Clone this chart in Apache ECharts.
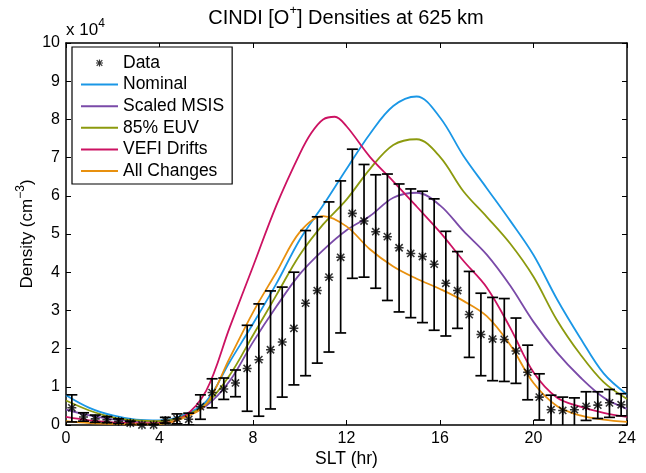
<!DOCTYPE html>
<html>
<head>
<meta charset="utf-8">
<script src="https://cdn.jsdelivr.net/npm/echarts@6/dist/echarts.min.js"></script>
<style>
html, body { margin: 0; padding: 0; background: #fff; }
#chart { width: 646px; height: 473px; }
</style>
</head>
<body>
<div id="chart"></div>
<script>
// model curves, x 10^4 cm^-3, hourly SLT
const hours = [0,1,2,3,4,5,6,7,8,9,10,11,12,13,14,15,16,17,18,19,20,21,22,23,24];
const nominal    = [0.78,0.45,0.25,0.14,0.12,0.25,0.62,1.65,2.65,3.70,4.85,5.75,6.70,7.62,8.35,8.60,8.05,7.05,6.20,5.35,4.45,3.30,2.28,1.35,0.80];
const scaledMsis = [0.40,0.25,0.15,0.10,0.10,0.22,0.50,1.15,2.17,3.10,3.95,4.58,5.10,5.47,5.95,6.08,5.75,5.08,4.46,3.65,2.70,1.90,1.25,0.72,0.42];
const euv85      = [0.64,0.38,0.20,0.12,0.10,0.22,0.55,1.30,2.35,3.40,4.45,5.25,5.90,6.70,7.33,7.48,7.02,6.12,5.45,4.75,3.88,2.75,1.85,1.12,0.68];
const allChanges = [0.10,0.05,0.03,0.02,0.03,0.18,0.55,1.75,2.95,4.00,5.05,5.47,5.20,4.60,4.15,3.83,3.56,3.25,2.85,2.10,1.10,0.50,0.25,0.14,0.08];
// VEFI curve has a sharper peak, so it gets two extra points near 11 h
const vefiHours  = [0,1,2,3,4,5,6,7,8,9,10,10.5,11,11.5,12,13,14,15,16,17,18,19,20,21,22,23,24];
const vefiDrifts = [0.21,0.12,0.07,0.05,0.05,0.20,0.90,2.55,4.15,5.75,7.10,7.65,8.00,8.07,7.82,7.02,6.38,5.72,5.05,4.30,3.60,2.55,1.38,0.72,0.48,0.32,0.21];

// CINDI data, half-hour bins
const dataHours = [0.25,0.75,1.25,1.75,2.25,2.75,3.25,3.75,4.25,4.75,5.25,5.75,6.25,6.75,7.25,7.75,8.25,8.75,9.25,9.75,10.25,10.75,11.25,11.75,
                   12.25,12.75,13.25,13.75,14.25,14.75,15.25,15.75,16.25,16.75,17.25,17.75,18.25,18.75,19.25,19.75,20.25,20.75,21.25,21.75,22.25,22.75,23.25,23.75];
const dataVals = [0.45,0.21,0.16,0.14,0.10,0.05,0.00,0.00,0.12,0.16,0.15,0.48,0.85,0.94,1.10,1.48,1.71,1.97,2.17,2.53,3.19,3.52,3.87,4.39,
                  5.54,5.34,5.06,4.93,4.64,4.49,4.41,4.21,3.71,3.52,2.89,2.37,2.25,2.24,1.94,1.38,0.73,0.40,0.38,0.40,0.49,0.52,0.58,0.53];
const errHigh = [0.79,0.32,0.26,0.22,0.16,0.10,0.02,0.02,0.20,0.29,0.31,0.79,1.21,1.23,1.44,2.61,3.17,3.51,3.61,4.00,5.09,5.45,5.84,6.39,
                 7.22,6.82,6.55,6.57,6.31,6.18,6.12,5.92,5.07,4.54,4.02,3.45,3.34,3.31,2.80,2.09,1.34,0.78,0.73,0.71,0.87,0.87,0.93,0.82];
const errLow  = [0.08,0.10,0.07,0.06,0.04,0.00,-0.02,-0.02,0.05,0.03,0.00,0.15,0.45,0.67,0.74,0.36,0.23,0.42,0.73,1.05,1.29,1.62,1.91,2.41,
                 3.84,3.87,3.58,3.26,2.96,2.81,2.68,2.48,2.33,2.53,1.77,1.29,1.16,1.14,1.09,0.66,0.13,-0.05,-0.05,-0.05,0.12,0.17,0.20,0.24];

const FONT = 'Liberation Sans, Arial, Helvetica, sans-serif';

// asterisk marker, padded so the visible star is half the symbol size
const starPath = 'path://M8.3 0L11.7 0L11.7 20L8.3 20Z M0 8.3L20 8.3L20 11.7L0 11.7Z M0.8 3.2L3.2 0.8L19.2 16.8L16.8 19.2Z M16.8 0.8L19.2 3.2L3.2 19.2L0.8 16.8Z M-10 -10L-9.99 -10Z M30 30L30.01 30Z';

const chartDom = document.getElementById('chart');
const myChart = echarts.init(chartDom, null, { renderer: 'canvas' });

function lineSeries(name, xs, values, color) {
    return {
        name: name,
        type: 'line',
        data: xs.map((h, i) => [h, values[i]]),
        symbol: 'none',
        smooth: 0.35,
        lineStyle: { color: color, width: 1.8 },
        itemStyle: { color: color },
        z: 3
    };
}

const axisLineStyle = { color: '#000', width: 1.5 };
const noMarker = { opacity: 0 };

const options = {
    animation: false,
    textStyle: { fontFamily: FONT },
    grid: { left: 66, right: 19, top: 43, bottom: 45 },
    graphic: [
        {
            type: 'text', x: 346, y: 18,
            style: {
                text: 'CINDI [O{sup|+}] Densities at 625 km',
                align: 'center', verticalAlign: 'middle',
                fontFamily: FONT, fontSize: 20, lineHeight: 28, fill: '#000',
                rich: { sup: { fontFamily: FONT, fontSize: 13, lineHeight: 13, verticalAlign: 'top' } }
            }
        },
        {
            type: 'text', x: 66, y: 30,
            style: {
                text: 'x 10{sup|4}',
                align: 'left', verticalAlign: 'middle',
                fontFamily: FONT, fontSize: 17, lineHeight: 25, fill: '#000',
                rich: { sup: { fontFamily: FONT, fontSize: 12, lineHeight: 12, verticalAlign: 'top' } }
            }
        }
    ],
    legend: {
        data: [
            { name: 'Data' },
            { name: 'Nominal', itemStyle: noMarker },
            { name: 'Scaled MSIS', itemStyle: noMarker },
            { name: '85% EUV', itemStyle: noMarker },
            { name: 'VEFI Drifts', itemStyle: noMarker },
            { name: 'All Changes', itemStyle: noMarker }
        ],
        orient: 'vertical',
        left: 72, top: 47,
        padding: [7, 8, 4, 8],
        itemWidth: 37, itemHeight: 14, itemGap: 3.6,
        borderColor: '#000', borderWidth: 1.2, borderRadius: 0,
        backgroundColor: '#fff',
        selectedMode: false,
        textStyle: { fontFamily: FONT, fontSize: 17.5, color: '#000' }
    },
    xAxis: [
        {
            type: 'value', min: 0, max: 24, interval: 4, position: 'bottom',
            name: 'SLT (hr)', nameLocation: 'middle', nameGap: 25, nameMoveOverlap: false,
            nameTextStyle: { fontFamily: FONT, fontSize: 17.5, color: '#000' },
            axisLine: { show: true, onZero: false, lineStyle: axisLineStyle },
            axisTick: { show: true, inside: true, length: 5, lineStyle: { color: '#000' } },
            axisLabel: { fontFamily: FONT, fontSize: 16, color: '#000', margin: 6 },
            splitLine: { show: false }
        },
        {
            type: 'value', min: 0, max: 24, interval: 4, position: 'top',
            axisLine: { show: true, onZero: false, lineStyle: axisLineStyle },
            axisTick: { show: true, inside: true, length: 5, lineStyle: { color: '#000' } },
            axisLabel: { show: false },
            splitLine: { show: false }
        }
    ],
    yAxis: [
        {
            type: 'value', min: 0, max: 10, interval: 1, position: 'left',
            name: 'Density (cm{sup|\u22123})', nameLocation: 'middle', nameGap: 26, nameMoveOverlap: false,
            nameTextStyle: {
                fontFamily: FONT, fontSize: 17, lineHeight: 25, color: '#000',
                rich: { sup: { fontFamily: FONT, fontSize: 12, lineHeight: 12, verticalAlign: 'top' } }
            },
            axisLine: { show: true, onZero: false, lineStyle: axisLineStyle },
            axisTick: { show: true, inside: true, length: 5, lineStyle: { color: '#000' } },
            axisLabel: { fontFamily: FONT, fontSize: 16, color: '#000', margin: 6 },
            splitLine: { show: false }
        },
        {
            type: 'value', min: 0, max: 10, interval: 1, position: 'right',
            axisLine: { show: true, onZero: false, lineStyle: axisLineStyle },
            axisTick: { show: true, inside: true, length: 5, lineStyle: { color: '#000' } },
            axisLabel: { show: false },
            splitLine: { show: false }
        }
    ],
    series: [
        {
            name: 'Data',
            type: 'scatter',
            data: dataHours.map((h, i) => [h, dataVals[i]]),
            symbol: starPath,
            symbolSize: 18,
            symbolKeepAspect: true,
            itemStyle: { color: '#000' },
            z: 5
        },
        {
            name: 'errors',
            type: 'custom',
            clip: true,
            data: dataHours.map((h, i) => [h, errLow[i], errHigh[i]]),
            encode: { x: 0, y: [1, 2] },
            renderItem: (params, api) => {
                const x = api.value(0);
                const lo = api.coord([x, api.value(1)]);
                const hi = api.coord([x, api.value(2)]);
                const w = 5.5;
                const style = { stroke: '#000', lineWidth: 1.7 };
                return {
                    type: 'group',
                    children: [
                        { type: 'line', shape: { x1: lo[0], y1: lo[1], x2: hi[0], y2: hi[1] }, style: style },
                        { type: 'line', shape: { x1: lo[0] - w, y1: lo[1], x2: lo[0] + w, y2: lo[1] }, style: style },
                        { type: 'line', shape: { x1: hi[0] - w, y1: hi[1], x2: hi[0] + w, y2: hi[1] }, style: style }
                    ]
                };
            },
            z: 4
        },
        lineSeries('Nominal', hours, nominal, '#1a97e6'),
        lineSeries('Scaled MSIS', hours, scaledMsis, '#7a4aa8'),
        lineSeries('85% EUV', hours, euv85, '#8c9a0e'),
        lineSeries('VEFI Drifts', vefiHours, vefiDrifts, '#cc1262'),
        lineSeries('All Changes', hours, allChanges, '#e8900e')
    ]
};

myChart.setOption(options);

window.addEventListener('resize', () => {
    myChart.resize();
});
</script>
</body>
</html>
